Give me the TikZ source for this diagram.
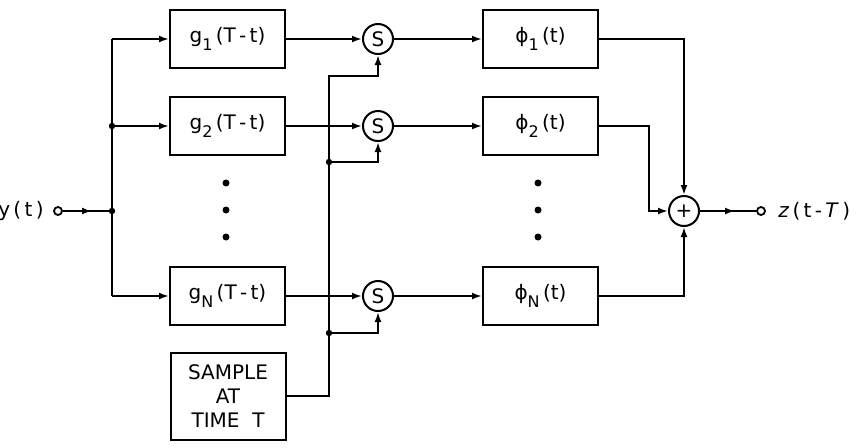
\documentclass[tikz,border=0pt]{standalone}
\usepackage{fontspec}
\setmainfont{DejaVu Sans}
\usetikzlibrary{arrows.meta,positioning,calc}
\newcommand\lowidx[1]{\raisebox{-0.75ex}{\footnotesize #1}}

\tikzset{
  blk/.style={draw, line width=1pt, minimum width=57.5pt, minimum height=29pt, inner sep=2pt,
    font=\fontsize{10}{12}\selectfont},
  smp/.style={circle, draw, line width=1pt, minimum size=15pt, inner sep=0pt,
    font=\fontsize{10}{12}\selectfont},
  term/.style={circle, draw, line width=0.9pt, minimum size=4pt, inner sep=0pt},
  jn/.style={circle, fill, minimum size=3.2pt, inner sep=0pt},
  vdot/.style={circle, fill, minimum size=3.5pt, inner sep=0pt},
  lbl/.style={inner sep=0pt, font=\fontsize{10}{12}\selectfont},
  wire/.style={line width=1pt},
  sig/.style={wire, -{Latex[length=5pt,width=3.5pt]}},
}

\begin{document}
\begin{tikzpicture}[x=0.5pt,y=0.5pt]
    \useasboundingbox (0,0) rectangle (858,447);

    % filter bank
    \node[blk] (g1) at (227.5,408) {g\lowidx{1}\,(T\,-\,t)};
    \node[blk] (g2) at (227.5,321) {g\lowidx{2}\,(T\,-\,t)};
    \node[blk] (gN) at (227.5,151) {g\lowidx{N}\,(T\,-\,t)};
    \node[blk, minimum height=43.5pt, align=center] (smpl) at (228,51)
      {SAMPLE\\AT\\TIME\ \ T};

    \node[smp] (s1) at (378,408) {S};
    \node[smp] (s2) at (378,321) {S};
    \node[smp] (sN) at (378,151) {S};

    \node[blk] (phi1) at (540.5,408) {ϕ\lowidx{1}\,(t)};
    \node[blk] (phi2) at (540.5,321) {ϕ\lowidx{2}\,(t)};
    \node[blk] (phiN) at (540.5,151) {ϕ\lowidx{N}\,(t)};

    \node[smp] (sum) at (684,236) {+};

    % terminals
    \node[term] (yin) at (58,236) {};
    \node[lbl, anchor=east] (ylbl) at (44,236) {y\,(\,t\,)};
    \node[term] (zout) at (761,236) {};
    \node[lbl, anchor=west] (zlbl) at (778,236) {\textit{z}\,(\,t\,-\,\textit{T}\,)};

    \coordinate (yarr) at (92,236);
    \coordinate (zarr) at (735,236);
    \coordinate (busT) at (112,408);
    \coordinate (busB) at (112,151);
    \coordinate (stop) at (329,371);
    \coordinate (b2) at (329,285);
    \coordinate (bN) at (329,114);

    % dots
    \foreach \yy in {264,237,210} {
      \node[vdot] at (226,\yy) {};
      \node[vdot] at (538,\yy) {};
    }

    % input bus
    \draw[wire] (yin) -- (yin -| busT);
    \draw[sig] (yin) -- (yarr);
    \draw[wire] (busT) -- (busB);
    \draw[sig] (busT) -- (g1.west);
    \draw[sig] (g2.west -| busT) -- (g2.west);
    \draw[sig] (busB) -- (gN.west);
    \node[jn] at (g2.west -| busT) {};
    \node[jn] at (yin -| busT) {};

    % samplers
    \draw[sig] (g1) -- (s1);
    \draw[sig] (g2) -- (s2);
    \draw[sig] (gN) -- (sN);
    \draw[sig] (smpl.east) -| (stop) -| (s1.south);
    \draw[sig] (b2) -| (s2.south);
    \draw[sig] (bN) -| (sN.south);
    \node[jn] at (b2) {};
    \node[jn] at (bN) {};

    \draw[sig] (s1) -- (phi1);
    \draw[sig] (s2) -- (phi2);
    \draw[sig] (sN) -- (phiN);

    % summation
    \draw[sig] (phi1.east) -| (sum.north);
    \draw[sig] (phi2.east) -- ++(50,0) |- (sum.west);
    \draw[sig] (phiN.east) -| (sum.south);
    \draw[wire] (sum) -- (zout);
    \draw[sig] (sum) -- (zarr);
\end{tikzpicture}
\end{document}
